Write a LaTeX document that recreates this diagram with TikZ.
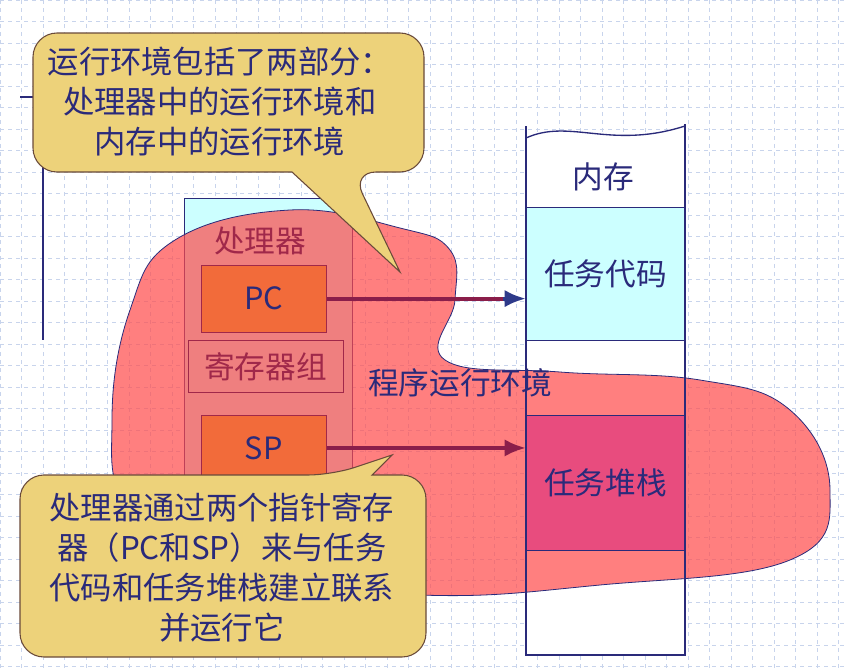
\documentclass[tikz,border=0pt]{standalone}
\usepackage{fontspec}
\setmainfont{Noto Sans CJK SC}
\usetikzlibrary{arrows.meta}
\begin{document}
\begin{tikzpicture}[x=0.75pt,y=-0.75pt,
  regbox/.style={draw=boxedge,fill=pcorange,minimum width=93.75pt,minimum height=50pt,anchor=north west,inner sep=0pt},
  callout/.style={draw=calloutedge,fill=calloutfill,line width=0.8pt},
  lbl/.style={font=\fontsize{23}{28}\selectfont,text=navytxt,align=center},
  ctext/.style={font=\fontsize{23.5}{30}\selectfont,text=navytxt,align=center}]
\definecolor{navytxt}{HTML}{2A2A7A}
\definecolor{gridc}{HTML}{C8D4EC}
\definecolor{pcorange}{HTML}{F26B3A}
\definecolor{boxedge}{HTML}{A0284A}
\definecolor{calloutfill}{HTML}{EDD27A}
\definecolor{calloutedge}{HTML}{6A4A3A}
\definecolor{ptrline}{HTML}{8A1E4A}
\definecolor{navyarrow}{HTML}{2E3A8A}
\definecolor{cyanfill}{HTML}{CCFFFF}
\definecolor{stackfill}{HTML}{E84C7E}
\definecolor{blobred}{HTML}{FF4A4A}
\useasboundingbox (0,0) rectangle (844,669);
\fill[white] (0,0) rectangle (844,669);
% grid
\foreach \x in {0,21.5,...,844} \draw[gridc,dashed,line width=0.4pt] (\x,0) -- (\x,669);
\foreach \y in {0,21.5,...,669} \draw[gridc,dashed,line width=0.4pt] (0,\y) -- (844,\y);
% left line
\draw[navytxt,line width=0.8pt] (43,95) -- (43,340) (20,97) -- (43,97);
% processor
\node[draw=navytxt,fill=cyanfill,minimum width=126pt,minimum height=272pt,anchor=north west,inner sep=0pt] (proc) at (184,198) {};
% memory
\fill[white] (526,138) .. controls (570,118) and (610,150) .. (685,126) -- (685,655) -- (526,655) -- cycle;
\node[fill=cyanfill,minimum width=119pt,minimum height=100pt,anchor=north west,inner sep=0pt,draw=navytxt,line width=0.4pt] (code) at (526,207) {};
% blob
\fill[blobred,opacity=0.7] plot[smooth cycle,tension=0.7] coordinates {(290,210) (400,228) (450,250) (455,300) (445,360) (560,372) (700,380) (790,410) (830,490) (790,560) (600,585) (420,595) (230,572) (130,510) (112,420) (130,310) (175,240)};
\draw[navytxt,line width=0.6pt] plot[smooth cycle,tension=0.7] coordinates {(290,210) (400,228) (450,250) (455,300) (445,360) (560,372) (700,380) (790,410) (830,490) (790,560) (600,585) (420,595) (230,572) (130,510) (112,420) (130,310) (175,240)};
% processor contents on top
\node[font=\fontsize{23}{28}\selectfont,text=boxedge] (proclbl) at (260,241) {处理器};
\node[regbox] (pc) at (201,265) {};
\node[lbl] at (pc.center) {PC};
\node[draw=boxedge,minimum width=116pt,minimum height=39pt,anchor=north west,inner sep=0pt,font=\fontsize{23}{28}\selectfont,text=boxedge] (regs) at (188,340) {寄存器组};
\node[regbox,minimum height=49pt] (sp) at (201,415) {};
\node[lbl] at (sp.center) {SP};
\node[fill=stackfill,minimum width=119pt,minimum height=101pt,anchor=north west,inner sep=0pt,draw=navytxt,line width=0.4pt] (stack) at (526,415) {};
% memory outline
\draw[navytxt,line width=1pt] (526,138) .. controls (570,118) and (610,150) .. (685,126);
\draw[navytxt,line width=1.2pt] (526,126) -- (526,655) -- (685,655) -- (685,124);
\node[lbl] (memlbl) at (603,177) {内存};
\node[lbl] at (code.center) {任务代码};
\node[lbl] at (stack.center) {任务堆栈};
\node[lbl] (env) at (460,383) {程序运行环境};
% arrows
\draw[line width=3pt,ptrline] (pc.east) -- ([xshift=-16pt]code.west |- pc.east);
\draw[navyarrow,-{Latex[length=16pt,width=13pt]},line width=3pt] ([xshift=-17pt]code.west |- pc.east) -- (code.west |- pc.east);
\draw[line width=3pt,ptrline] (sp.east) -- ([xshift=-16pt]stack.west |- sp.east);
\draw[ptrline,-{Latex[length=16pt,width=13pt]},line width=3pt] ([xshift=-17pt]stack.west |- sp.east) -- (stack.west |- sp.east);
% callouts
\draw[callout,rounded corners=18] (33,33) -- (424,33) -- (424,172) -- (352,172) [sharp corners] -- (400,272) -- (292,172) [rounded corners=18] -- (33,172) -- cycle;
\node[ctext] (c1) at (220,102) {运行环境包括了两部分：\\处理器中的运行环境和\\内存中的运行环境};
\draw[callout,rounded corners=18] (20,475) -- (332,475) [sharp corners] -- (392,455) -- (372,475) [rounded corners=18] -- (426,475) -- (426,657) -- (20,657) -- cycle;
\node[ctext] (c2) at (222,568) {处理器通过两个指针寄存\\器（PC和SP）来与任务\\代码和任务堆栈建立联系\\并运行它};
\end{tikzpicture}
\end{document}
